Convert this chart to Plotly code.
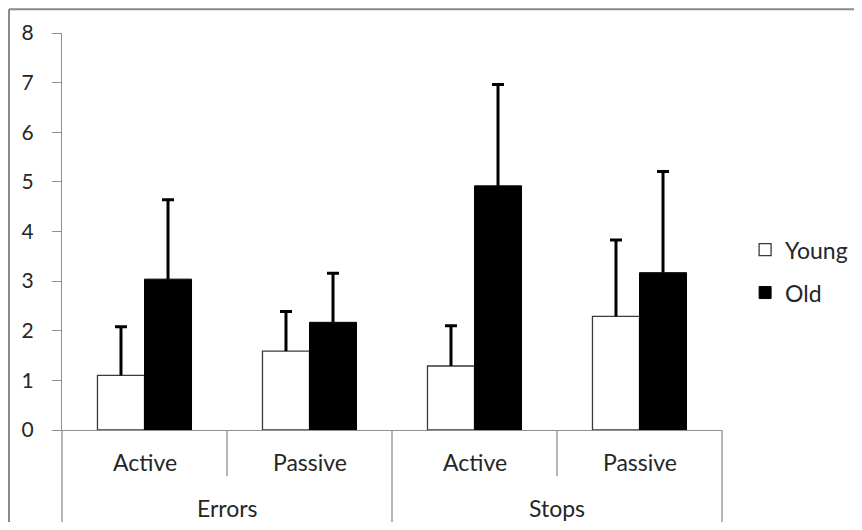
import plotly.graph_objects as go

measures = ["Errors", "Errors", "Stops", "Stops"]
conditions = ["Active", "Passive", "Active", "Passive"]
outer_labels = ["Errors", "Stops"]
young_mean = [1.10, 1.59, 1.29, 2.29]
young_err = [0.98, 0.80, 0.81, 1.54]
old_mean = [3.04, 2.17, 4.92, 3.17]
old_err = [1.60, 0.99, 2.04, 2.04]
y_ticks = [0, 1, 2, 3, 4, 5, 6, 7, 8]

FONT = "Lato"
FS_Y = 21
FS = 23
GREY = "#8f8f8f"
TXT = "#262626"

x = [measures, conditions]
young_top = [m + e for m, e in zip(young_mean, young_err)]
old_top = [m + e for m, e in zip(old_mean, old_err)]

fig = go.Figure()
# Bars with error stems (no caps)
fig.add_trace(go.Bar(
    name="Young", x=x, y=young_mean, offsetgroup="young", legendgroup="a",
    marker=dict(color="white", line=dict(color="#3a3a3a", width=1.3)),
    error_y=dict(type="data", array=young_err, arrayminus=[0] * 4, symmetric=False,
                 color="black", thickness=3, width=0),
))
fig.add_trace(go.Bar(
    name="Old", x=x, y=old_mean, offsetgroup="old", legendgroup="b",
    marker=dict(color="black", line=dict(color="black", width=1)),
    error_y=dict(type="data", array=old_err, arrayminus=[0] * 4, symmetric=False,
                 color="black", thickness=3, width=0),
))
# Caps at the top of each error bar
for top, grp, lg in ((young_top, "young", "a"), (old_top, "old", "b")):
    fig.add_trace(go.Bar(
        x=x, y=top, offsetgroup=grp, legendgroup=lg, showlegend=False, hoverinfo="skip",
        marker=dict(color="rgba(0,0,0,0)", line=dict(width=0)),
        error_y=dict(type="data", array=[0] * 4, symmetric=True,
                     color="black", thickness=3, width=6),
    ))

# page has an 8px body margin: figure sized so it fits the 862x530 window
fig.update_layout(
    width=846, height=514,
    margin=dict(l=54, r=132, t=25, b=92, autoexpand=False),
    paper_bgcolor="white", plot_bgcolor="white",
    barmode="group", bargap=0.43, bargroupgap=0,
    font=dict(family=FONT, size=FS, color=TXT),
    showlegend=True,
    legend=dict(x=1.035, y=0.40, xanchor="left", yanchor="middle",
                font=dict(size=FS, family=FONT, color=TXT), tracegroupgap=10,
                traceorder="grouped", bgcolor="rgba(0,0,0,0)"),
    xaxis=dict(type="multicategory", showline=True, linecolor=GREY, linewidth=1.3,
               ticks="", showticklabels=False, showdividers=False,
               showgrid=False, automargin=False),
    yaxis=dict(range=[0, 8], tickvals=y_ticks, showgrid=False, zeroline=False,
               showline=True, linecolor=GREY, linewidth=1.3,
               ticks="outside", ticklen=9, tickcolor=GREY, tickwidth=1.3,
               ticklabelstandoff=14, automargin=False,
               tickfont=dict(size=FS_Y, family=FONT, color=TXT)),
)

# outer frame of the chart (only its top and left edges fall inside the view)
FRAME_L, FRAME_T = -0.0803, 1.06
fig.add_shape(type="line", xref="paper", yref="paper",
              x0=FRAME_L, x1=1.3, y0=FRAME_T, y1=FRAME_T,
              line=dict(color="#8a8a8a", width=2), layer="below")
fig.add_shape(type="line", xref="paper", yref="paper",
              x0=FRAME_L, x1=FRAME_L, y0=-0.35, y1=FRAME_T,
              line=dict(color="#8a8a8a", width=2), layer="below")

# category axis separators and labels
n = len(conditions)
AX_BOTTOM = -0.232
INNER_BOTTOM = -0.116
fig.add_shape(type="line", xref="paper", yref="paper", x0=0, x1=0,
              y0=0, y1=AX_BOTTOM, line=dict(color=GREY, width=1.3))
for i in range(1, n + 1):
    outer_edge = (i == n) or (measures[i] != measures[i - 1])
    fig.add_shape(type="line", xref="paper", yref="paper",
                  x0=i / n, x1=i / n, y0=0,
                  y1=AX_BOTTOM if outer_edge else INNER_BOTTOM,
                  line=dict(color=GREY, width=1.3))
for i, lab in enumerate(conditions):
    fig.add_annotation(xref="paper", yref="paper", x=(i + 0.5) / n, y=-0.0806,
                       text=lab, showarrow=False, xanchor="center", yanchor="middle",
                       font=dict(size=FS, family=FONT, color=TXT))
for lab in outer_labels:
    idx = [i for i, m in enumerate(measures) if m == lab]
    cx = (min(idx) + max(idx) + 1) / 2 / n
    fig.add_annotation(xref="paper", yref="paper", x=cx, y=-0.196,
                       text=lab, showarrow=False, xanchor="center", yanchor="middle",
                       font=dict(size=FS, family=FONT, color=TXT))

fig.write_html("out.html")
